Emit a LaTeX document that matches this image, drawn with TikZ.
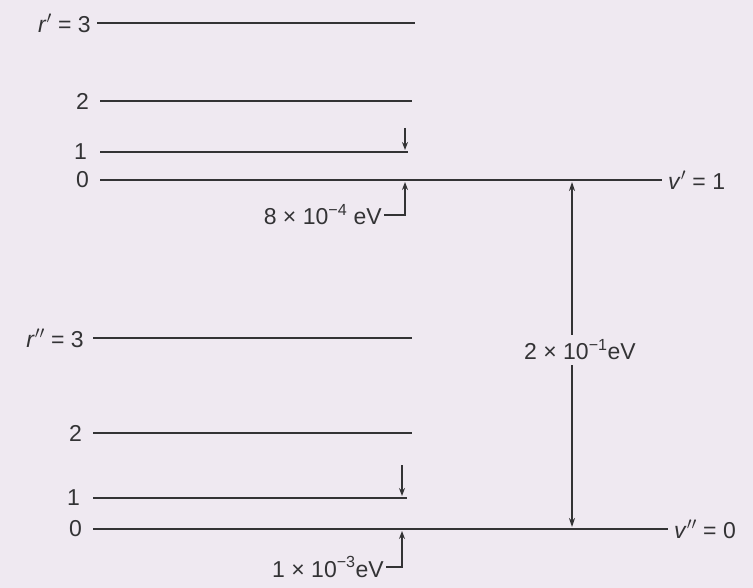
\documentclass[tikz,border=0pt]{standalone}
\usepackage{fontspec}
\setmainfont{Liberation Sans}
\usetikzlibrary{arrows.meta}
\definecolor{PageBg}{HTML}{EFE9F1}
\definecolor{InkGray}{HTML}{333335}

\begin{document}
\begin{tikzpicture}[
    x=1pt, y=-1pt,
    level/.style={draw=InkGray, line width=2.7pt},
    lab/.style={text=InkGray, font=\fontsize{23}{26}\selectfont, inner sep=2pt},
    gap/.style={-{Stealth[length=8pt,width=6pt]}, draw=InkGray, line width=1.3pt},
    span/.style={{Stealth[length=9pt,width=6pt]}-{Stealth[length=9pt,width=6pt]}, draw=InkGray, line width=1.4pt}
  ]
    \fill[PageBg] (0,0) rectangle (753,588);
    \useasboundingbox (0,0) rectangle (753,588);

    % upper vibrational state
    \coordinate (u3a) at (97,23);   \coordinate (u3b) at (415,23);
    \coordinate (u2a) at (100,101); \coordinate (u2b) at (412,101);
    \coordinate (u1a) at (100,152); \coordinate (u1b) at (408,152);
    \coordinate (u0a) at (100,180); \coordinate (u0b) at (662,180);
    \draw[level] (u3a) -- (u3b);
    \draw[level] (u2a) -- (u2b);
    \draw[level] (u1a) -- (u1b);
    \draw[level] (u0a) -- (u0b);
    \node[lab, anchor=east] (u3lab) at (93,23) {\textit{r}$'$ = 3};
    \node[lab, anchor=east] (u2lab) at (91,101) {2};
    \node[lab, anchor=east] (u1lab) at (89,152) {1};
    \node[lab, anchor=east] (u0lab) at (91,180) {0};
    \node[lab, anchor=west] (vup) at (666,180) {\textit{v}$'$ = 1};

    % lower vibrational state
    \coordinate (l3a) at (93,338);  \coordinate (l3b) at (412,338);
    \coordinate (l2a) at (93,433);  \coordinate (l2b) at (412,433);
    \coordinate (l1a) at (93,498);  \coordinate (l1b) at (407,498);
    \coordinate (l0a) at (93,529);  \coordinate (l0b) at (668,529);
    \draw[level] (l3a) -- (l3b);
    \draw[level] (l2a) -- (l2b);
    \draw[level] (l1a) -- (l1b);
    \draw[level] (l0a) -- (l0b);
    \node[lab, anchor=east] (l3lab) at (86,338) {\textit{r}$''$ = 3};
    \node[lab, anchor=east] (l2lab) at (84,433) {2};
    \node[lab, anchor=east] (l1lab) at (82,498) {1};
    \node[lab, anchor=east] (l0lab) at (84,529) {0};
    \node[lab, anchor=west] (vlow) at (672,529) {\textit{v}$''$ = 0};

    % rotational spacings
    \coordinate (uTop) at (405,128);
    \coordinate (uHit) at (405,150);
    \coordinate (uBot) at (405,182);
    \coordinate (uElb) at (405,215);
    \node[lab, anchor=east] (uGap) at (384,215) {8 × 10\textsuperscript{−4} eV};
    \draw[gap] (uTop) -- (uHit);
    \draw[gap] (uGap.east) -- (uElb) -- (uBot);

    \coordinate (lTop) at (402,465);
    \coordinate (lHit) at (402,496);
    \coordinate (lBot) at (402,531);
    \coordinate (lElb) at (402,567);
    \node[lab, anchor=east] (lGap) at (386,567) {1 × 10\textsuperscript{−3}eV};
    \draw[gap] (lTop) -- (lHit);
    \draw[gap] (lGap.east) -- (lElb) -- (lBot);

    % vibrational spacing
    \coordinate (vTop) at (572,182);
    \coordinate (vBot) at (572,527);
    \draw[span] (vTop) -- (vBot);
    \node[lab, fill=PageBg, inner ysep=5pt] (vGap) at (580,350) {2 × 10\textsuperscript{−1}eV};
  \end{tikzpicture}
\end{document}
